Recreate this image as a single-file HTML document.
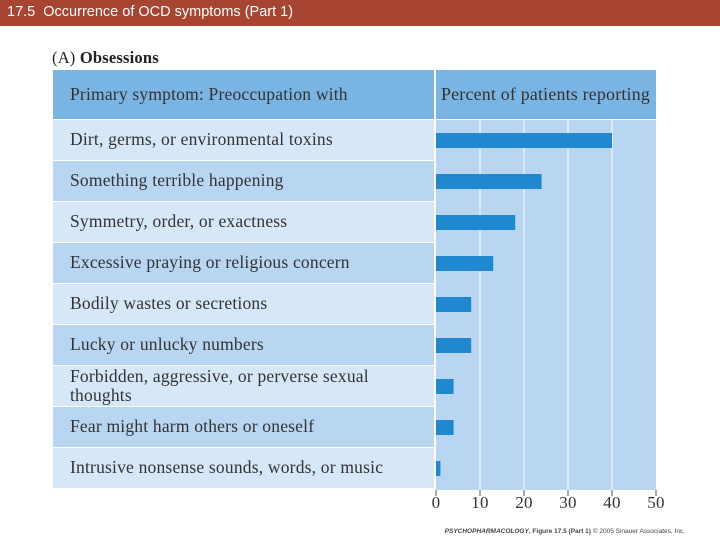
<!DOCTYPE html>
<html><head><meta charset="utf-8"><style>
body{margin:0;width:720px;height:540px;background:#fff;position:relative;overflow:hidden;font-family:"Liberation Serif",serif}
#bar{position:absolute;left:0;top:0;width:720px;height:26px;background:#a84432;color:#fff;font-family:"Liberation Sans",sans-serif;font-size:14.5px;line-height:25px;padding-left:7px;box-sizing:border-box}
svg text{letter-spacing:0.2px}
</style></head><body>
<div id="bar">17.5 &nbsp;Occurrence of OCD symptoms (Part 1)</div>
<svg id="c" width="720" height="540" style="position:absolute;left:0;top:0"></svg>
<script>
const categories=[["Dirt, germs, or environmental toxins"],["Something terrible happening"],["Symmetry, order, or exactness"],["Excessive praying or religious concern"],["Bodily wastes or secretions"],["Lucky or unlucky numbers"],["Forbidden, aggressive, or perverse sexual","thoughts"],["Fear might harm others or oneself"],["Intrusive nonsense sounds, words, or music"]];
const values=[40,24,18,13,8,8,4,4,1];
const ticks=[0,10,20,30,40,50];
const NS="http://www.w3.org/2000/svg",svg=document.getElementById('c');
const x0=436,x1=656,top0=120,rowH=41;
const xs=v=>x0+(x1-x0)*v/50;
const ys=i=>top0+i*rowH;
function mk(t,a,p){const e=document.createElementNS(NS,t);for(const k in a)e.setAttribute(k,a[k]);(p||svg).appendChild(e);return e;}
let t=mk('text',{x:52,y:63,'font-size':16.5,fill:'#222'});t.innerHTML='(A) <tspan font-weight="bold">Obsessions</tspan>';


let h=mk('rect',{x:53,y:70,width:603,height:49,fill:'#79b4e3'});


t=mk('text',{x:70,y:100,'font-size':17.5,fill:'#333'});t.textContent='Primary symptom:  Preoccupation with';


t=mk('text',{x:441,y:100,'font-size':17.5,fill:'#333',textLength:209,lengthAdjust:'spacingAndGlyphs'});t.textContent='Percent of patients reporting';


let bg=mk('rect',{x:436,y:120,width:220,height:370,fill:'#b8d6f1'});


mk('rect',{x:434,y:70,width:2,height:420,fill:'#fff'});
ticks.forEach(v=>{if(v>0&&v<50)mk('line',{x1:xs(v),x2:xs(v),y1:120,y2:490,stroke:'#fff','stroke-width':1});
 mk('line',{x1:xs(v),x2:xs(v),y1:490,y2:496,stroke:'#555','stroke-width':1});
 const tl=mk('text',{x:xs(v),y:508,'font-size':17,'text-anchor':'middle',fill:'#333'});tl.textContent=v;
 
 });
categories.forEach((c,i)=>{
 const r=mk('rect',{x:53,y:ys(i),width:381,height:rowH-1,fill:i%2?'#b8d6f1':'#d6e7f7'});
 
 
 const lt=mk('text',{x:70,y:ys(i)+(c.length>1?16:25),'font-size':17.5,fill:'#333'});
 c.forEach((s,j)=>{const ts=mk('tspan',{x:70,dy:j?19:0},lt);ts.textContent=s;});
 
 
 const b=mk('rect',{x:x0,y:ys(i)+13,width:xs(values[i])-x0,height:15,fill:'#1f88cf'});
 
 
});
t=mk('text',{x:685,y:533,'font-size':6.5,'text-anchor':'end',fill:'#444','font-family':'Liberation Sans, sans-serif',style:'letter-spacing:0'});
t.innerHTML='<tspan font-weight="bold" font-style="italic">PSYCHOPHARMACOLOGY</tspan><tspan font-weight="bold">, Figure 17.5 (Part 1)</tspan>  © 2005 Sinauer Associates, Inc.';


</script>
</body></html>
